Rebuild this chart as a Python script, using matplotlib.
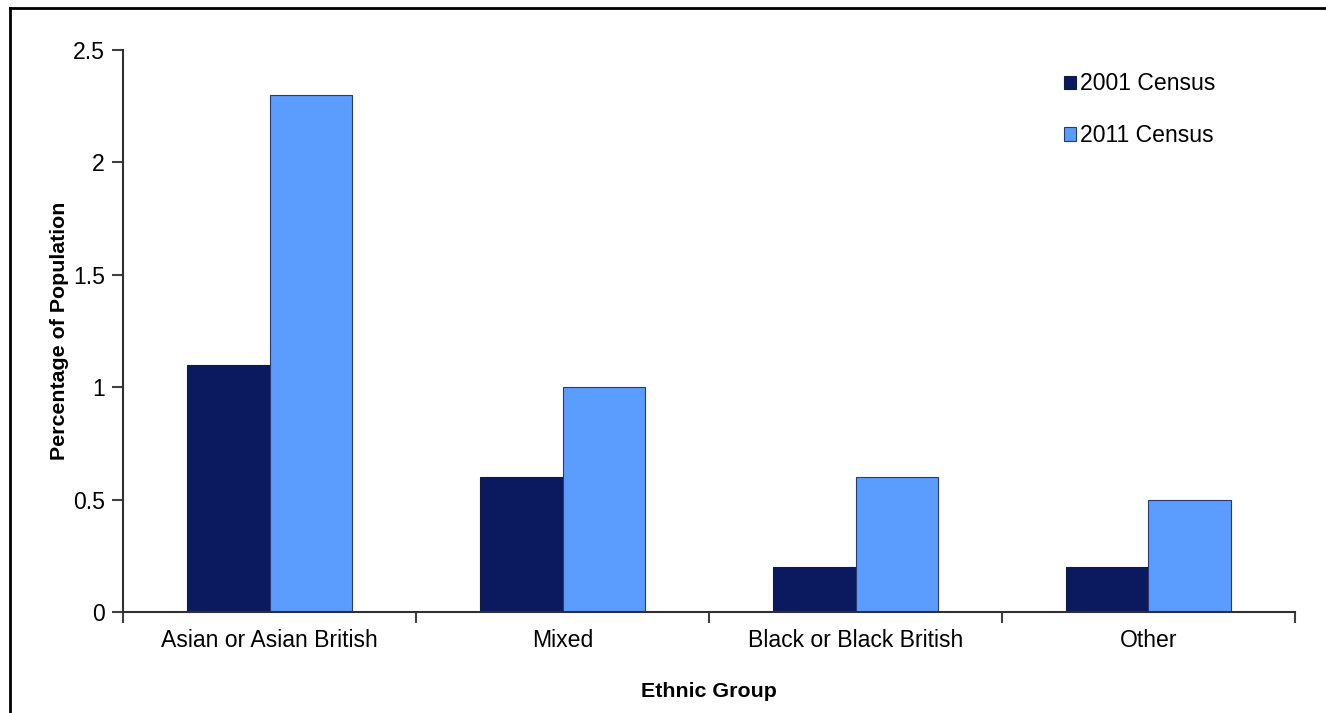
import matplotlib.pyplot as plt
from matplotlib.lines import Line2D
from matplotlib.ticker import FuncFormatter
import numpy as np

plt.rcParams['font.family'] = ['Liberation Sans', 'DejaVu Sans']

groups = ['Asian or Asian British', 'Mixed', 'Black or Black British', 'Other']
census_2001 = [1.1, 0.6, 0.2, 0.2]
census_2011 = [2.3, 1.0, 0.6, 0.5]
series_names = ['2001 Census', '2011 Census']
colors = ['#0b1a5e', '#5a9cff']

fig = plt.figure(figsize=(13.26, 7.13), dpi=100)
ax = fig.add_axes([0.0928, 0.1417, 0.8838, 0.7882])

x = np.arange(len(groups))
w = 0.283
ax.bar(x - w / 2, census_2001, w, color=colors[0], edgecolor='#101c40',
       linewidth=0.8, label=series_names[0])
ax.bar(x + w / 2, census_2011, w, color=colors[1], edgecolor='#2a3a70',
       linewidth=0.8, label=series_names[1])

ax.set_xlim(-0.5, len(groups) - 0.5)
ax.set_ylim(0, 2.5)
ax.set_yticks(np.arange(0, 2.51, 0.5))
ax.yaxis.set_major_formatter(FuncFormatter(lambda v, p: f'{v:g}'))
ax.set_xticks(x)
ax.set_xticklabels(groups)
ax.set_xticks(np.arange(-0.5, len(groups), 1), minor=True)
ax.tick_params(axis='x', which='major', length=0, pad=12, labelsize=16.6)
ax.tick_params(axis='x', which='minor', length=8, width=1.5, color='#404040')
ax.tick_params(axis='y', length=8, width=1.5, color='#404040', pad=5,
               labelsize=16.6)

for s in ['top', 'right']:
    ax.spines[s].set_visible(False)
for s in ['left', 'bottom']:
    ax.spines[s].set_linewidth(1.5)
    ax.spines[s].set_color('#303030')

ax.set_xlabel('Ethnic Group', fontsize=15.4, fontweight='bold', labelpad=22)
ax.set_ylabel('Percentage of Population', fontsize=15.4, fontweight='bold',
              labelpad=3)

ax.legend(loc='upper right', bbox_to_anchor=(0.95, 0.997), frameon=False,
          fontsize=16.6, handlelength=0.5, handleheight=0.5, handletextpad=0.2,
          labelspacing=1.25)

# figure border (top and left edges visible)
fig.add_artist(Line2D([0.0075, 0.0075], [0, 0.989], transform=fig.transFigure,
                      color='black', linewidth=2))
fig.add_artist(Line2D([0.0075, 1], [0.989, 0.989], transform=fig.transFigure,
                      color='black', linewidth=2))

fig.savefig('out.png', dpi=100)
